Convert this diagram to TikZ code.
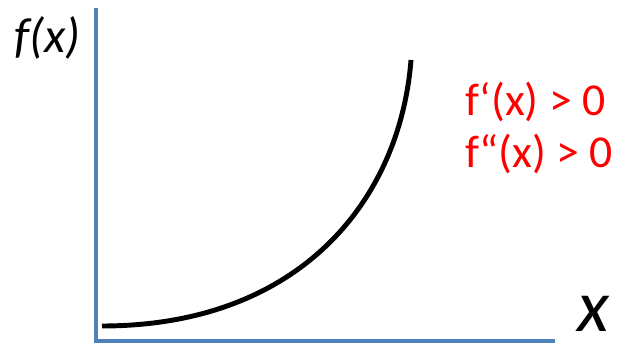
\documentclass[tikz,border=0pt]{standalone}
\usepackage{fontspec}
\setmainfont{Carlito}
\definecolor{axisblue}{RGB}{79,129,189}
\tikzset{
  axis/.style={draw=axisblue,line width=2.4pt},
  curve/.style={draw=black,line width=2.8pt},
  cond/.style={text=red,font=\fontsize{26}{30}\selectfont,inner sep=0pt,anchor=west}
}
\begin{document}
\begin{tikzpicture}
  \useasboundingbox (0,0) rectangle (12.5,6.88);
  \coordinate (top) at (1.92,6.72);
  \coordinate (origin) at (1.92,0.06);
  \coordinate (right) at (11.1,0.06);
  \draw[axis] (top)--(origin)--(right);
  \coordinate (start) at (2.04,0.36);
  \coordinate (end) at (8.22,5.68);
  \draw[curve] (start) .. controls (6.0,0.36) and (8.0,2.88) .. (end);
  \node[font=\fontsize{28}{32}\selectfont\itshape] (fx) at (0.95,6.12) {f(x)};
  \node[font=\fontsize{42}{46}\selectfont\itshape,inner sep=0pt,anchor=base] (xl) at (11.86,0.25) {x};
  \node[cond] (d1) at (9.3,4.84) {f‘(x) > 0};
  \node[cond] (d2) at (9.3,3.8) {f“(x) > 0};
\end{tikzpicture}
\end{document}
